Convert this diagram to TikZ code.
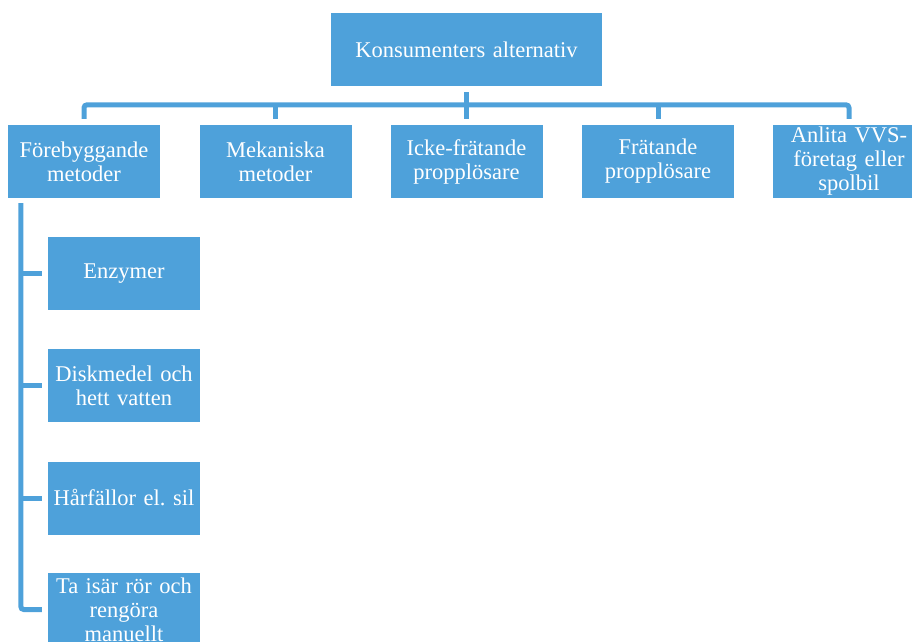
\documentclass[tikz,border=0pt]{standalone}
\usepackage{fontspec}
\setmainfont{Liberation Serif}
\frenchspacing
\definecolor{boxblue}{HTML}{4EA1DA}
\begin{document}
\begin{tikzpicture}[x=1pt,y=-1pt,
  box/.style={fill=boxblue, text=white, minimum width=152pt, minimum height=73pt,
    align=center, inner sep=0pt, text width=152pt, font=\fontsize{22.5}{24}\selectfont},
  conn/.style={draw=boxblue, line width=5pt, rounded corners=3pt}]
\useasboundingbox (0,0) rectangle (912,641);
\clip (0,0) rectangle (912,641);
% top
\node[box, minimum width=271pt, text width=265pt] (top) at (466.5,49.5) {Konsumenters alternativ};
% second row
\node[box] (b1) at (84,161.5) {Förebyggande\\metoder};
\node[box] (b2) at (275.5,161.5) {Mekaniska\\metoder};
\node[box] (b3) at (466.5,161.5) {Icke-frätande\\propplösare};
\node[box] (b4) at (658,161.5) {Frätande\\propplösare};
\node[box] (b5) at (849,161.5) {Anlita VVS-\\företag eller\\spolbil};
% children
\node[box] (c1) at (124,273.5) {Enzymer};
\node[box] (c2) at (124,385.5) {Diskmedel och\\hett vatten};
\node[box] (c3) at (124,498) {Hårfällor el. sil};
\node[box] (c4) at (124,609.5) {Ta isär rör och\\rengöra\\manuellt};
% connectors
\draw[conn] ([yshift=6pt]b1.north) -- ++(0,-14) -| ([yshift=6pt]b5.north);
\draw[conn] ([yshift=6pt]b2.north) -- ++(0,-14);
\draw[conn] ([yshift=6pt]b4.north) -- ++(0,-14);
\draw[conn] ([yshift=-6pt]top.south) -- ([yshift=6pt]b3.north);
\coordinate (v) at ([xshift=13pt,yshift=-5pt]b1.south west);
\draw[conn] (v) |- ([xshift=-6pt]c4.west);
\draw[conn] (v |- c1.west) -- ([xshift=-6pt]c1.west);
\draw[conn] (v |- c2.west) -- ([xshift=-6pt]c2.west);
\draw[conn] (v |- c3.west) -- ([xshift=-6pt]c3.west);
\end{tikzpicture}
\end{document}
